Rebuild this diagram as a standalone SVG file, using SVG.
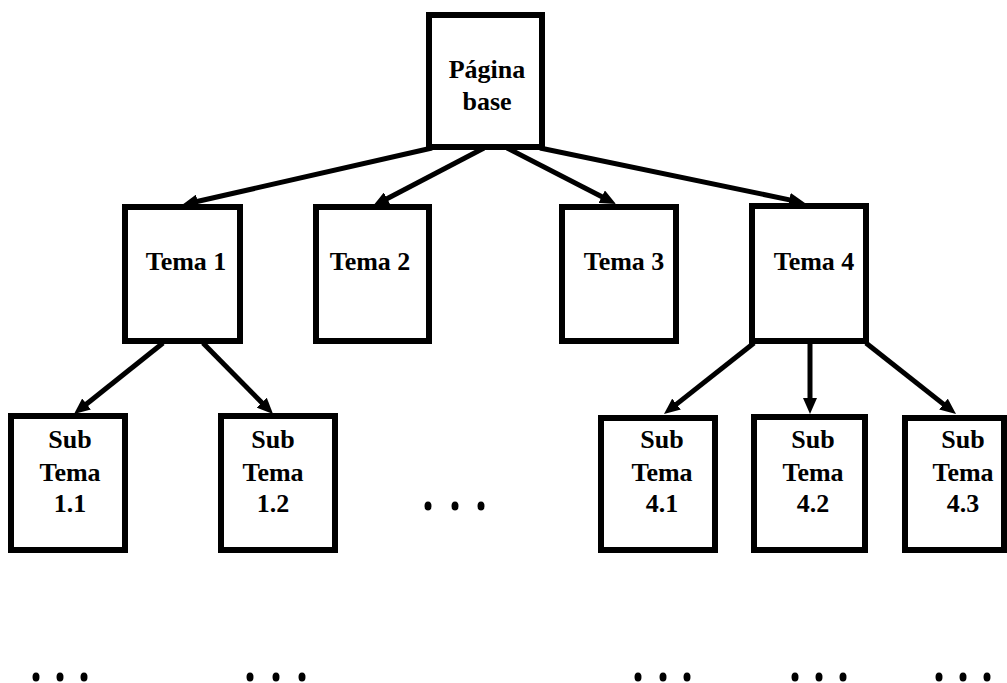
<svg xmlns="http://www.w3.org/2000/svg" width="1007" height="683" viewBox="0 0 1007 683">
<style>
.box{fill:#fff;stroke:#000;stroke-width:6}
.lbl{font-family:"Liberation Serif","Times New Roman",serif;font-weight:bold;font-size:26px;fill:#000;text-anchor:middle}
.conn{stroke:#000;stroke-width:5;fill:none;marker-end:url(#arr)}
.dot{fill:#000}
</style>
<defs>
<marker id="arr" markerUnits="userSpaceOnUse" markerWidth="16" markerHeight="14" refX="4" refY="7" orient="auto" viewBox="0 0 16 14">
<path d="M0,0 L16,7 L0,14 z" fill="#000"/>
</marker>
</defs>
<rect width="1007" height="683" fill="#fff"/>
<g id="connectors">
<line class="conn" x1="432" y1="148" x2="193.7" y2="202.3"/>
<line class="conn" x1="484" y1="148" x2="383.6" y2="200.5"/>
<line class="conn" x1="507" y1="148" x2="605.3" y2="198.5"/>
<line class="conn" x1="540" y1="148" x2="793.2" y2="200.6"/>
<line class="conn" x1="163" y1="343" x2="83.4" y2="406.5"/>
<line class="conn" x1="203" y1="343" x2="264.6" y2="405.5"/>
<line class="conn" x1="754" y1="343" x2="673.4" y2="406.6"/>
<line class="conn" x1="810" y1="343" x2="810" y2="402"/>
<line class="conn" x1="866" y1="343" x2="946.6" y2="406.6"/>
</g>
<g id="pagina-base">
<rect class="box" x="429" y="15" width="113" height="132"/>
<text class="lbl" x="487" y="78">Página</text>
<text class="lbl" x="487" y="110">base</text>
</g>
<g id="tema1">
<rect class="box" x="125" y="207" width="115" height="134"/>
<text class="lbl" x="186" y="270">Tema 1</text>
</g>
<g id="tema2">
<rect class="box" x="316" y="207" width="113" height="134"/>
<text class="lbl" x="370" y="270">Tema 2</text>
</g>
<g id="tema3">
<rect class="box" x="562" y="207" width="114" height="134"/>
<text class="lbl" x="624" y="270">Tema 3</text>
</g>
<g id="tema4">
<rect class="box" x="752" y="206" width="114" height="135"/>
<text class="lbl" x="814" y="270">Tema 4</text>
</g>
<g id="subtema11">
<rect class="box" x="11" y="416" width="114" height="134"/>
<text class="lbl" x="70" y="448">Sub</text>
<text class="lbl" x="70" y="481">Tema</text>
<text class="lbl" x="70" y="512">1.1</text>
</g>
<g id="subtema12">
<rect class="box" x="221" y="416" width="114" height="134"/>
<text class="lbl" x="273" y="448">Sub</text>
<text class="lbl" x="273" y="481">Tema</text>
<text class="lbl" x="273" y="512">1.2</text>
</g>
<g id="subtema41">
<rect class="box" x="601" y="418" width="114" height="132"/>
<text class="lbl" x="662" y="448">Sub</text>
<text class="lbl" x="662" y="481">Tema</text>
<text class="lbl" x="662" y="512">4.1</text>
</g>
<g id="subtema42">
<rect class="box" x="754" y="417" width="111" height="133"/>
<text class="lbl" x="813" y="448">Sub</text>
<text class="lbl" x="813" y="481">Tema</text>
<text class="lbl" x="813" y="512">4.2</text>
</g>
<g id="subtema43">
<rect class="box" x="905" y="418" width="99" height="132"/>
<text class="lbl" x="963" y="448">Sub</text>
<text class="lbl" x="963" y="481">Tema</text>
<text class="lbl" x="963" y="512">4.3</text>
</g>
<g id="ellipses">
<ellipse class="dot" cx="428" cy="506" rx="3.5" ry="4.5"/>
<ellipse class="dot" cx="455" cy="506" rx="3.5" ry="4.5"/>
<ellipse class="dot" cx="481" cy="506" rx="3.5" ry="4.5"/>
<ellipse class="dot" cx="36" cy="677" rx="3.5" ry="4.5"/>
<ellipse class="dot" cx="60" cy="677" rx="3.5" ry="4.5"/>
<ellipse class="dot" cx="84" cy="677" rx="3.5" ry="4.5"/>
<ellipse class="dot" cx="250" cy="677" rx="3.5" ry="4.5"/>
<ellipse class="dot" cx="276" cy="677" rx="3.5" ry="4.5"/>
<ellipse class="dot" cx="302" cy="677" rx="3.5" ry="4.5"/>
<ellipse class="dot" cx="638" cy="677" rx="3.5" ry="4.5"/>
<ellipse class="dot" cx="663" cy="677" rx="3.5" ry="4.5"/>
<ellipse class="dot" cx="687" cy="677" rx="3.5" ry="4.5"/>
<ellipse class="dot" cx="795" cy="677" rx="3.5" ry="4.5"/>
<ellipse class="dot" cx="819" cy="677" rx="3.5" ry="4.5"/>
<ellipse class="dot" cx="843" cy="677" rx="3.5" ry="4.5"/>
<ellipse class="dot" cx="939" cy="677" rx="3.5" ry="4.5"/>
<ellipse class="dot" cx="963" cy="677" rx="3.5" ry="4.5"/>
<ellipse class="dot" cx="987" cy="677" rx="3.5" ry="4.5"/>
</g>
</svg>
